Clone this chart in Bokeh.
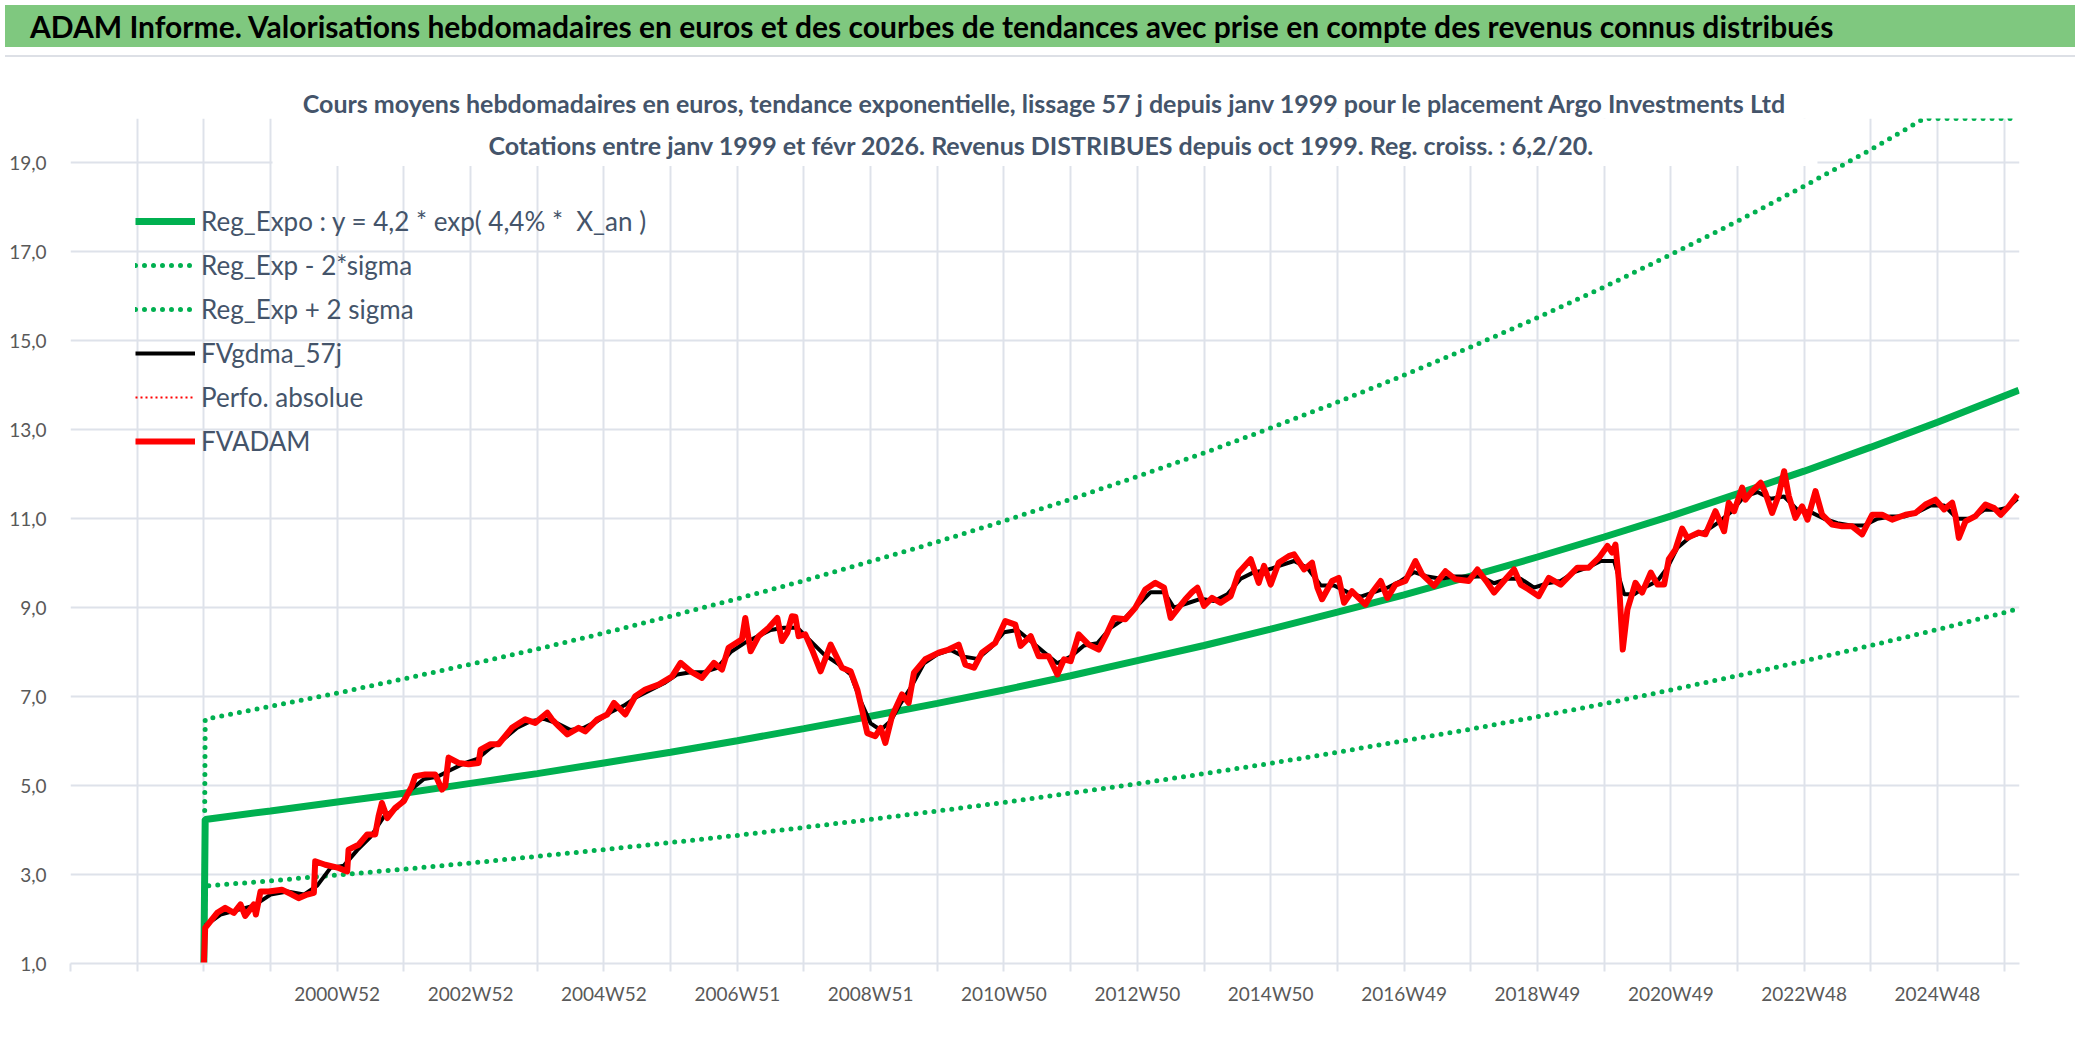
from bokeh.plotting import figure
from bokeh.models import Range1d, FixedTicker, Label, BoxAnnotation, Div, Title
from bokeh.layouts import column
from bokeh.embed import file_html
from bokeh.resources import INLINE

FONT = "Lato"

# x is in years since the first quotation (janv 1999)
tick_pos = list(range(-2, 28))
tick_names = {2: "2000W52", 4: "2002W52", 6: "2004W52", 8: "2006W51", 10: "2008W51",
              12: "2010W50", 14: "2012W50", 16: "2014W50", 18: "2016W49", 20: "2018W49",
              22: "2020W49", 24: "2022W48", 26: "2024W48"}
y_ticks = [1, 3, 5, 7, 9, 11, 13, 15, 17, 19]

# trend curves
trend_t = [0, 0.02] + list(range(1, 28)) + [27.22]
reg_v = [1.0, 4.24, 4.43, 4.63, 4.83, 5.05, 5.27, 5.51, 5.75, 6.01, 6.28, 6.56, 6.85, 7.15,
         7.47, 7.81, 8.15, 8.52, 8.90, 9.29, 9.71, 10.14, 10.59, 11.06, 11.56, 12.07, 12.61,
         13.17, 13.76, 13.89]
low_v = [1.0, 2.74, 2.86, 2.99, 3.12, 3.26, 3.41, 3.56, 3.72, 3.88, 4.06, 4.24, 4.43, 4.62,
         4.83, 5.04, 5.27, 5.50, 5.75, 6.01, 6.27, 6.55, 6.84, 7.15, 7.47, 7.80, 8.15, 8.51,
         8.89, 8.98]
up_t = [0, 0.02] + list(range(1, 26)) + [25.8, 26, 27, 27.22]
up_v = [1.0, 6.49, 6.78, 7.08, 7.40, 7.73, 8.07, 8.43, 8.81, 9.20, 9.61, 10.04, 10.48, 10.95,
        11.44, 11.95, 12.48, 13.04, 13.62, 14.23, 14.86, 15.52, 16.21, 16.94, 17.69, 18.48,
        19.30, 20.0, 20.0, 20.0, 20.0]

# Perfo. absolue: listed in the legend, nothing readable on the chart
perfo_t = [0.0, 0.02]
perfo_v = [float("nan"), float("nan")]

# FVADAM weekly valuation
red_t = [0.0, 0.02, 0.2, 0.32, 0.45, 0.55, 0.62, 0.75, 0.78, 0.85, 0.97, 1.17, 1.32, 1.42,
         1.55, 1.65, 1.67, 1.82, 2.02, 2.15, 2.17, 2.32, 2.45, 2.57, 2.62, 2.67, 2.75, 2.87,
         3.0, 3.12, 3.17, 3.32, 3.47, 3.57, 3.62, 3.67, 3.82, 3.97, 4.12, 4.15, 4.3, 4.42,
         4.62, 4.82, 4.97, 5.15, 5.22, 5.32, 5.45, 5.62, 5.72, 5.9, 6.05, 6.15, 6.32, 6.47,
         6.62, 6.82, 7.02, 7.15, 7.3, 7.47, 7.65, 7.77, 7.87, 8.07, 8.12, 8.2, 8.32, 8.47,
         8.6, 8.67, 8.75, 8.82, 8.87, 8.92, 9.02, 9.12, 9.25, 9.4, 9.57, 9.7, 9.8, 9.87,
         9.95, 10.07, 10.15, 10.22, 10.32, 10.47, 10.57, 10.65, 10.82, 11.02, 11.17, 11.32,
         11.42, 11.55, 11.67, 11.87, 12.02, 12.17, 12.25, 12.4, 12.52, 12.67, 12.8, 12.9,
         13.0, 13.12, 13.27, 13.42, 13.55, 13.65, 13.82, 13.97, 14.12, 14.27, 14.4, 14.5,
         14.62, 14.72, 14.82, 14.9, 15.0, 15.12, 15.25, 15.4, 15.52, 15.7, 15.82, 15.9, 16.0,
         16.12, 16.27, 16.35, 16.5, 16.62, 16.7, 16.77, 16.92, 17.02, 17.1, 17.22, 17.42,
         17.52, 17.65, 17.75, 17.87, 18.02, 18.17, 18.27, 18.45, 18.62, 18.77, 18.97, 19.1,
         19.25, 19.35, 19.52, 19.65, 19.75, 19.87, 20.02, 20.17, 20.35, 20.6, 20.77, 20.92,
         21.05, 21.12, 21.17, 21.22, 21.28, 21.35, 21.47, 21.57, 21.7, 21.8, 21.9, 21.97,
         22.07, 22.17, 22.25, 22.42, 22.52, 22.67, 22.8, 22.87, 22.95, 23.07, 23.12, 23.22,
         23.35, 23.42, 23.52, 23.62, 23.7, 23.77, 23.87, 23.97, 24.05, 24.17, 24.27, 24.42,
         24.57, 24.72, 24.87, 25.02, 25.17, 25.32, 25.52, 25.67, 25.82, 25.97, 26.1, 26.22,
         26.27, 26.32, 26.42, 26.57, 26.72, 26.85, 26.95, 27.07, 27.2]
red_v = [1.0, 1.80, 2.14, 2.25, 2.14, 2.33, 2.07, 2.33, 2.10, 2.62, 2.62, 2.66, 2.55, 2.47,
         2.55, 2.59, 3.30, 3.22, 3.15, 3.07, 3.56, 3.67, 3.90, 3.90, 4.31, 4.61, 4.27, 4.50,
         4.65, 4.99, 5.21, 5.25, 5.25, 4.91, 4.99, 5.63, 5.51, 5.48, 5.51, 5.81, 5.93, 5.93,
         6.30, 6.49, 6.41, 6.64, 6.49, 6.34, 6.15, 6.30, 6.22, 6.49, 6.60, 6.86, 6.60, 7.01,
         7.16, 7.27, 7.45, 7.76, 7.57, 7.42, 7.76, 7.61, 8.10, 8.29, 8.77, 8.02, 8.36, 8.55,
         8.77, 8.25, 8.44, 8.81, 8.80, 8.36, 8.40, 8.06, 7.57, 8.17, 7.65, 7.57, 7.16, 6.71,
         6.18, 6.11, 6.30, 5.96, 6.56, 7.05, 6.86, 7.54, 7.84, 7.99, 8.06, 8.17,
         7.72, 7.65, 7.99, 8.21, 8.70, 8.62, 8.14, 8.36, 7.91, 7.91, 7.50, 7.84,
         7.80, 8.40, 8.17, 8.06, 8.44, 8.77, 8.74, 9.00, 9.41, 9.56, 9.45, 8.77,
         9.00, 9.19, 9.35, 9.45, 9.04, 9.22, 9.11, 9.26, 9.79, 10.09, 9.56, 9.94, 9.52,
         10.01, 10.16, 10.20, 9.86, 10.01, 9.45, 9.19, 9.60, 9.67, 9.11, 9.37, 9.07,
         9.34, 9.60, 9.22, 9.52, 9.60, 10.05, 9.75, 9.49, 9.82, 9.64, 9.60, 9.86,
         9.56, 9.34, 9.64, 9.86, 9.52, 9.41, 9.26, 9.67, 9.52, 9.90, 9.90, 10.12,
         10.39, 10.24, 10.42, 9.64, 8.06, 8.96, 9.56, 9.34, 9.79, 9.52, 9.52, 10.09,
         10.31, 10.78, 10.57, 10.69, 10.65, 11.17, 10.72, 11.36, 11.17, 11.70, 11.43, 11.62,
         11.81, 11.58, 11.13, 11.54, 12.07, 11.51, 11.02, 11.28, 10.98, 11.62, 11.09, 10.87,
         10.83, 10.83, 10.65, 11.09, 11.09, 10.98, 11.09, 11.13, 11.32, 11.43, 11.21, 11.36,
         11.06, 10.57, 10.94, 11.06, 11.32, 11.24, 11.09, 11.28, 11.54]

# FVgdma_57j smoothed curve
blk_t = [0.02, 0.25, 0.5, 0.75, 1.0, 1.25, 1.5, 1.7, 1.9, 2.1, 2.3, 2.5, 2.7, 2.9, 3.1, 3.3,
         3.5, 3.7, 3.9, 4.1, 4.3, 4.5, 4.7, 4.9, 5.1, 5.3, 5.5, 5.7, 5.9, 6.1, 6.3, 6.5, 6.7,
         6.9, 7.1, 7.3, 7.5, 7.7, 7.9, 8.1, 8.3, 8.5, 8.7, 8.9, 9.1, 9.3, 9.5, 9.7, 9.85, 10.0,
         10.15, 10.3, 10.45, 10.6, 10.8, 11.0, 11.2, 11.4, 11.6, 11.8, 12.0, 12.2, 12.4, 12.6,
         12.8, 13.0, 13.2, 13.4, 13.6, 13.8, 14.0, 14.2, 14.4, 14.55, 14.75, 14.95, 15.15,
         15.35, 15.55, 15.75, 15.95, 16.15, 16.35, 16.55, 16.75, 16.95, 17.15, 17.35, 17.55,
         17.75, 17.95, 18.15, 18.35, 18.55, 18.75, 18.95, 19.15, 19.35, 19.55, 19.75, 19.95,
         20.15, 20.35, 20.55, 20.75, 20.95, 21.15, 21.3, 21.45, 21.6, 21.8, 21.95, 22.1, 22.3,
         22.5, 22.7, 22.9, 23.1, 23.3, 23.5, 23.7, 23.9, 24.1, 24.3, 24.5, 24.7, 24.9, 25.1,
         25.3, 25.5, 25.7, 25.9, 26.1, 26.3, 26.5, 26.7, 26.9, 27.05, 27.2]
blk_v = [1.85, 2.10, 2.20, 2.30, 2.55, 2.62, 2.55, 2.75, 3.15, 3.20, 3.55, 3.85, 4.30, 4.50,
         4.90, 5.15, 5.20, 5.35, 5.50, 5.60, 5.85, 6.05, 6.30, 6.45, 6.50, 6.40, 6.25, 6.30,
         6.45, 6.65, 6.80, 7.00, 7.15, 7.30, 7.50, 7.55, 7.55, 7.65, 8.00, 8.20, 8.35, 8.50,
         8.55, 8.55, 8.25, 7.95, 7.75, 7.50, 6.90, 6.40, 6.25, 6.45, 6.85, 7.20, 7.75, 7.95,
         8.05, 7.90, 7.85, 8.10, 8.45, 8.50, 8.25, 8.00, 7.75, 7.90, 8.15, 8.20, 8.55, 8.75,
         9.05, 9.35, 9.35, 9.00, 9.10, 9.20, 9.15, 9.30, 9.65, 9.80, 9.85, 9.95, 10.05, 9.90,
         9.50, 9.50, 9.35, 9.25, 9.35, 9.45, 9.60, 9.80, 9.70, 9.65, 9.70, 9.70, 9.70, 9.55,
         9.65, 9.65, 9.45, 9.55, 9.60, 9.80, 9.90, 10.05, 10.05, 9.30, 9.30, 9.45, 9.60, 9.90,
         10.35, 10.60, 10.70, 10.90, 11.15, 11.50, 11.60, 11.45, 11.50, 11.20, 11.15, 11.00,
         10.90, 10.85, 10.85, 11.00, 11.05, 11.05, 11.15, 11.30, 11.30, 11.00, 11.00, 11.20,
         11.20, 11.25, 11.45]

title_txt = ("ADAM Informe. Valorisations hebdomadaires en euros et des courbes de tendances "
             "avec prise en compte des revenus connus distribués")
sub1 = ("Cours moyens hebdomadaires en euros, tendance exponentielle, lissage 57 j depuis "
        "janv 1999 pour le placement Argo Investments Ltd")
sub2 = ("Cotations entre janv 1999 et févr 2026. Revenus DISTRIBUES depuis oct 1999. "
        "Reg. croiss. : 6,2/20.")

GREEN = "#00B050"
GRID = "#DEE2EA"
SLATE = "#44546A"

# green title band, then a thin grey line on top of the chart area
header = Div(text=title_txt, width=2070, height=52,
             styles={"background": "linear-gradient(#7FC87F 0px, #7FC87F 42px, #FFFFFF 42px, "
                                   "#FFFFFF 50px, #DDE0E6 50px, #DDE0E6 52px)",
                     "font-family": FONT, "font-weight": "bold",
                     "font-size": "30px", "color": "black", "line-height": "42px",
                     "padding-left": "25px", "box-sizing": "border-box",
                     "white-space": "nowrap", "overflow": "hidden"})

p = figure(width=2070, height=970, x_range=Range1d(-2, 27.23), y_range=Range1d(1, 20),
           output_backend="svg", toolbar_location=None, title_location=None,
           min_border_left=70, min_border_right=51, min_border_top=56, min_border_bottom=69)
p.outline_line_color = None

p.line(trend_t, reg_v, line_color=GREEN, line_width=7, legend_label="Reg_Expo : y = 4,2 * exp( 4,4% *  X_an )")
p.line(trend_t, low_v, line_color=GREEN, line_width=5, line_dash="0 9", line_cap="round",
       legend_label="Reg_Exp - 2*sigma")
p.line(up_t, up_v, line_color=GREEN, line_width=5, line_dash="0 9", line_cap="round",
       legend_label="Reg_Exp + 2 sigma")
p.line(blk_t, blk_v, line_color="black", line_width=4, legend_label="FVgdma_57j")
p.line(perfo_t, perfo_v, line_color="red", line_width=2, line_dash="2 3",
       legend_label="Perfo. absolue")
p.line(red_t, red_v, line_color="#FF0000", line_width=6, line_join="round",
       legend_label="FVADAM")

# chart title: first line above the frame, second line on a white box over the grid
p.add_layout(Title(text=sub1, align="center", text_font=FONT, text_font_style="bold",
                   text_font_size="25px", text_color=SLATE, standoff=2), "above")
p.add_layout(BoxAnnotation(left=1.03, right=24.2, bottom=18.93, top=20,
                           fill_color="white", fill_alpha=1, line_color=None))
p.add_layout(Label(x=12.56, y=19.41, text=sub2, text_align="center", text_baseline="middle",
                   text_font=FONT, text_font_style="bold", text_font_size="25px",
                   text_color=SLATE))

p.xaxis.ticker = FixedTicker(ticks=tick_pos)
p.xaxis.major_label_overrides = {t: tick_names.get(t, "") for t in tick_pos}
p.xaxis.minor_tick_line_color = None
p.xaxis.major_tick_in = 0
p.xaxis.major_tick_out = 8
p.xaxis.major_tick_line_color = GRID
p.xaxis.major_tick_line_width = 2
p.xaxis.axis_line_color = GRID
p.xaxis.axis_line_width = 2
p.xaxis.major_label_standoff = 10

p.yaxis.ticker = FixedTicker(ticks=y_ticks)
p.yaxis.major_label_overrides = {v: f"{v},0" for v in y_ticks}
p.yaxis.axis_line_color = None
p.yaxis.major_tick_line_color = None
p.yaxis.minor_tick_line_color = None
p.yaxis.major_label_standoff = 18

for ax in (p.xaxis, p.yaxis):
    ax.major_label_text_font = FONT
    ax.major_label_text_font_size = "19px"
    ax.major_label_text_color = "#595959"

p.xgrid.ticker = FixedTicker(ticks=tick_pos)
p.ygrid.ticker = FixedTicker(ticks=y_ticks)
for g in (p.xgrid, p.ygrid):
    g.grid_line_color = GRID
    g.grid_line_width = 2

p.legend.location = (65, 500)
p.legend.margin = 0
p.legend.padding = 0
p.legend.spacing = 0
p.legend.glyph_width = 60
p.legend.glyph_height = 44
p.legend.label_height = 44
p.legend.label_standoff = 6
p.legend.label_text_font = FONT
p.legend.label_text_font_size = "26px"
p.legend.label_text_color = SLATE
p.legend.background_fill_alpha = 0
p.legend.border_line_color = None

layout = column(header, p, spacing=0)
open("out.html", "w").write(file_html(layout, INLINE))
